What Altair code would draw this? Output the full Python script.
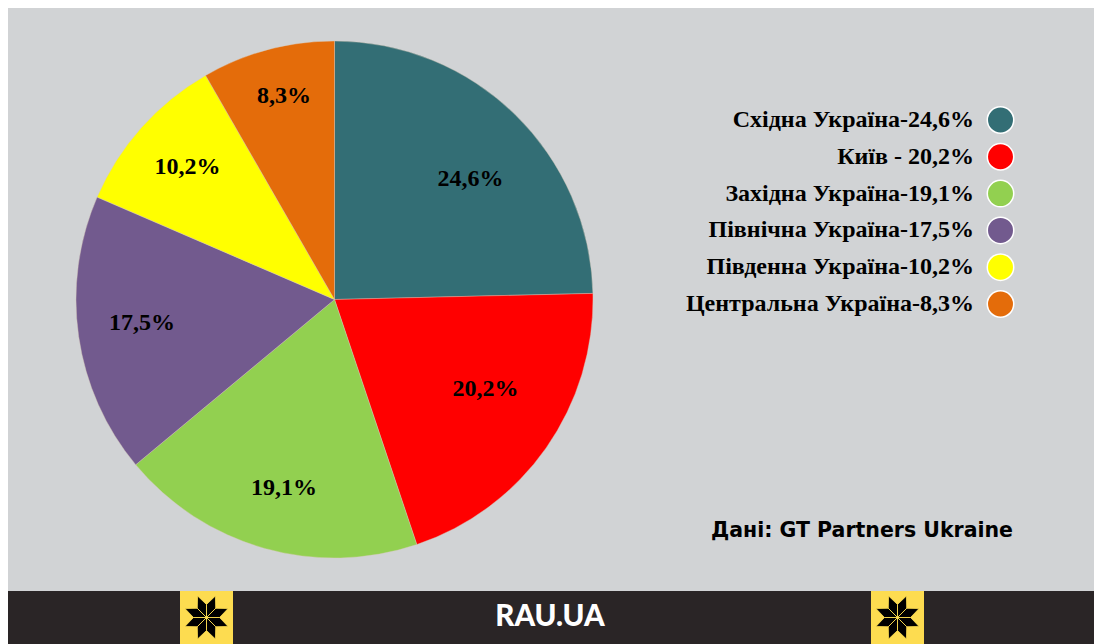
import math
import altair as alt
import pandas as pd

regions = ["Східна Україна", "Київ", "Західна Україна", "Північна Україна", "Південна Україна", "Центральна Україна"]
values = [24.6, 20.2, 19.1, 17.5, 10.2, 8.3]
pct_labels = ["24,6%", "20,2%", "19,1%", "17,5%", "10,2%", "8,3%"]
legend_labels = ["Східна Україна-24,6%", "Київ - 20,2%", "Західна Україна-19,1%", "Північна Україна-17,5%", "Південна Україна-10,2%", "Центральна Україна-8,3%"]
colors = ["#336e75", "#ff0000", "#92d050", "#725a8e", "#ffff00", "#e46c0a"]

OX, OY = 8, 8
CX, CY, R = 334.5 - OX, 299.5 - OY, 258.5
label_radius = [181.7, 175.5, 195.2, 193.9, 197.9, 209.7]
label_angle = [48.5, 120.7, 195, 263, 312, 346.1]
W, H = 1086, 636
BG = "#d1d3d5"
SERIF = "Liberation Serif"

order = list(range(len(values)))
df = pd.DataFrame({"region": regions, "value": values, "pct": pct_labels, "legend": legend_labels,
                   "order": order, "mid": [math.radians(a) for a in label_angle], "lr": label_radius})

color = alt.Color("region:N", scale=alt.Scale(domain=regions, range=colors), legend=None)
base = alt.Chart(df)

pie = base.mark_arc(outerRadius=R, stroke="#d9c9b8", strokeWidth=0.4).encode(
    theta=alt.Theta("value:Q", stack=True, scale=alt.Scale(domain=[0, sum(values)], range=[0, 2 * math.pi])),
    order=alt.Order("order:Q"),
    color=color,
    x=alt.value(CX), y=alt.value(CY),
)
pct = base.mark_text(font=SERIF, fontWeight="bold", fontSize=24, color="#000000", align="center", baseline="middle").encode(
    text="pct:N",
    theta=alt.Theta("mid:Q", scale=None),
    radius=alt.Radius("lr:Q", scale=None),
    x=alt.value(CX), y=alt.value(CY),
)
leg_y = alt.Y("region:N", scale=alt.Scale(domain=regions, type="point", padding=0, range=[120 - OY, 304 - OY]), axis=None)
leg_sym = base.mark_circle(size=700, opacity=1, stroke="#ffffff", strokeWidth=1.5).encode(
    x=alt.value(1000.5 - OX), y=leg_y, color=color)
leg_txt = base.mark_text(font=SERIF, fontWeight="bold", fontSize=24, color="#000000", align="right", baseline="middle").encode(
    x=alt.value(974 - OX), y=leg_y, text="legend:N")

src = alt.Chart(pd.DataFrame({"t": ["Дані: GT Partners Ukraine"]})).mark_text(
    font="DejaVu Sans", fontWeight="bold", fontSize=20.5, align="right", baseline="middle", color="#000000"
).encode(x=alt.value(1013 - OX), y=alt.value(531 - OY), text="t:N")

bar = alt.Chart(pd.DataFrame({"a": [0]})).mark_rect(color="#2a2526").encode(
    x=alt.value(0), x2=alt.value(W), y=alt.value(591 - OY), y2=alt.value(H))
brand = alt.Chart(pd.DataFrame({"t": ["RAU.UA"]})).mark_text(
    font="Lato", fontWeight=900, fontSize=29.5, align="center", baseline="middle", color="#ffffff"
).encode(x=alt.value(550 - OX), y=alt.value(617 - OY), text="t:N")

def star_path():
    parts = []
    for k in range(8):
        a = math.radians(22.5 + 45 * k)
        pts = [(0, 0)]
        for ang, r in ((a - math.radians(22.5), 0.56), (a, 1.0), (a + math.radians(22.5), 0.56)):
            pts.append((r * math.sin(ang), -r * math.cos(ang)))
        parts.append("M" + "L".join(f"{x:.3f},{y:.3f}" for x, y in pts) + "Z")
    return "".join(parts)

emblem_x = [206.5 - OX, 897.5 - OX]
emblems = []
for ex in emblem_x:
    emblems.append(alt.Chart(pd.DataFrame({"a": [0]})).mark_rect(color="#fddc50").encode(
        x=alt.value(ex - 26.5), x2=alt.value(ex + 26.5), y=alt.value(591 - OY), y2=alt.value(H)))
    emblems.append(alt.Chart(pd.DataFrame({"a": [0]})).mark_point(
        shape=star_path(), filled=True, fill="#000000", stroke="#fddc50", strokeWidth=0.8, opacity=1, size=2170
    ).encode(x=alt.value(ex), y=alt.value(617.5 - OY)))

chart = alt.layer(pie, pct, leg_sym, leg_txt, src, bar, *emblems, brand).properties(
    width=W, height=H, background=BG, padding=0, autosize=alt.AutoSizeParams(type="none")
).configure_view(stroke=None)

chart.save("out.html", embed_options={"renderer": "svg", "actions": False})
